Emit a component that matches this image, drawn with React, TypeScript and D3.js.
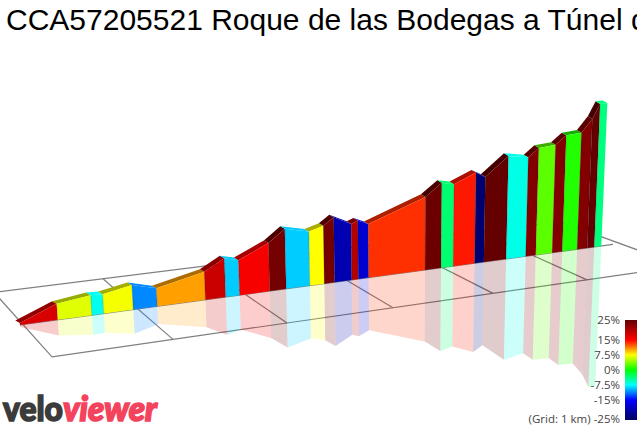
import * as d3 from "d3";
import { useEffect, useRef } from "react";

// Road profile
const distanceKm = [0, 0.32, 0.61, 0.71, 0.96, 1.18, 1.63, 1.82, 1.95, 2.24, 2.4, 2.63, 2.77, 2.87, 3.04, 3.11, 3.22, 3.82, 3.99, 4.12, 4.35, 4.45, 4.69, 4.9, 5.01, 5.22, 5.35, 5.54, 5.67, 5.76, 5.85];
const elevationM = [10, 80, 100, 97, 123, 90, 140, 194, 175, 240, 300, 270, 289, 325, 280, 292, 268, 365, 425, 410, 453, 425, 515, 495, 535, 539, 580, 583, 645, 715, 715];
const gradientPct = [17.5, 6.6, -7, 7.2, -11, 10.3, 18.4, -9, 15.5, 24, -9, 7.5, 24, -20, 20, -18, 13.6, 24.5, -3.3, 14.3, -24, 25, -6.8, 23, 2.7, 23, 1, 23, 25, -3.7];

// Ground grid
const gridKm = [0, 1, 2, 3, 4, 5, 6];
const backEdgeX = [-6, 103, 204, 302, 393, 480, 560];
const midEdgeX = [20, 138, 245, 348, 442, 535, 613];
const frontEdgeX = [52, 173, 287, 393, 493, 587, 682];

// Legend
const legendStops = [25, 15, 7.5, 0, -7.5, -15, -25];
const legendColors = ["#640000", "#ff0000", "#ffff00", "#00ff00", "#00ffff", "#0000ff", "#000060"];
const legendLabels = ["25%", "15%", "7.5%", "0%", "-7.5%", "-15%", "(Grid: 1 km) -25%"];

const title = "CCA57205521 Roque de las Bodegas a Túnel de";

export default function App() {
  const svgRef = useRef<SVGSVGElement>(null);

  useEffect(() => {
    if (!svgRef.current) return;
    const svg = d3.select(svgRef.current);
    svg.selectAll("*").remove();

    const xMid = d3.scaleLinear().domain(gridKm).range(midEdgeX);
    const xBack = d3.scaleLinear().domain(gridKm).range(backEdgeX);
    const xFront = d3.scaleLinear().domain(gridKm).range(frontEdgeX);
    // screen x -> screen y of the three long grid lines
    const yBack = d3.scaleLinear().domain([0, 560]).range([291.6, 221.6]);
    const yMid = d3.scaleLinear().domain([20, 613]).range([325, 244.4]);
    const yFront = d3.scaleLinear().domain([0, 682]).range([364.3, 266.2]);
    const height = d3.scaleLinear().domain([0, 715]).range([0, 143]);
    const color = d3.scaleLinear<string>().domain(legendStops).range(legendColors).interpolate(d3.interpolateRgb);
    const line = d3.line();

    // Ground grid goes first, the road hides most of it
    const grid = svg.append("g").attr("fill", "none").attr("stroke", "#808080").attr("stroke-width", 1.2);
    gridKm.forEach((k) => {
      const bx = xBack(k), fx = xFront(k);
      grid.append("path").attr("d", line([[bx, yBack(bx)], [fx, yFront(fx)]]));
    });
    grid.append("path").attr("d", line([[xBack(0), yBack(xBack(0))], [xBack(6), yBack(xBack(6))]]));
    grid.append("path").attr("d", line([[xMid(0), yMid(xMid(0))], [xMid(6), yMid(xMid(6))]]));
    grid.append("path").attr("d", line([[xFront(0), yFront(xFront(0))], [xFront(6), yFront(xFront(6))]]));

    // Verticals spread apart going up, away from the middle of the view
    const pts = distanceKm.map((d, i) => {
      const x = xMid(d);
      const y = yMid(x);
      const h = height(elevationM[i]);
      const lean = h * (x - 400) * 0.00021;
      return { x, y, h, topX: x + lean, topY: y - h, lowX: x - lean, lowY: y + h * 0.98 };
    });

    const ribbon = svg.append("g");
    gradientPct.forEach((g, i) => {
      const a = pts[i], b = pts[i + 1];
      const c = color(g);
      // reflection
      ribbon.append("path")
        .attr("d", line([[a.x, a.y], [b.x, b.y], [b.lowX, b.lowY], [a.lowX, a.lowY]]) + "Z")
        .attr("fill", c).attr("fill-opacity", 0.2);
    });
    gradientPct.forEach((g, i) => {
      const a = pts[i], b = pts[i + 1];
      const c = color(g);
      const ox = -4.5, oy = -2.6;
      // top of the road
      ribbon.append("path")
        .attr("d", line([[a.topX, a.topY], [b.topX, b.topY], [b.topX + ox, b.topY + oy], [a.topX + ox, a.topY + oy]]) + "Z")
        .attr("fill", g > 0 ? d3.color(c)!.darker(1.1).formatHex() : c);
      // front face
      ribbon.append("path")
        .attr("d", line([[a.x, a.y], [b.x, b.y], [b.topX, b.topY], [a.topX, a.topY]]) + "Z")
        .attr("fill", c);
      ribbon.append("path")
        .attr("d", line([[a.x, a.y], [a.topX, a.topY]]))
        .attr("stroke", "#000").attr("stroke-opacity", 0.25).attr("stroke-width", 0.7);
    });

    // Title, it runs off the right edge like the original
    svg.append("text")
      .attr("x", 6).attr("y", 30)
      .attr("font-family", "'Liberation Sans', Arial, sans-serif")
      .attr("font-size", 30).attr("fill", "#000")
      .text(title);

    // Legend
    const legendY = d3.scaleLinear().domain([25, -25]).range([320, 420]);
    const defs = svg.append("defs");
    const lg = defs.append("linearGradient").attr("id", "grad").attr("x1", 0).attr("x2", 0).attr("y1", 0).attr("y2", 1);
    legendStops.forEach((s, i) => {
      lg.append("stop").attr("offset", (25 - s) / 50).attr("stop-color", legendColors[i]);
    });
    svg.append("rect")
      .attr("x", 625).attr("y", legendY(25)).attr("width", 12).attr("height", legendY(-25) - legendY(25))
      .attr("fill", "url(#grad)");
    svg.append("g").selectAll("text").data(legendStops).join("text")
      .attr("x", 620)
      .attr("y", (d) => Math.min(legendY(d), 419) + 4)
      .attr("text-anchor", "end")
      .attr("font-family", "'Open Sans', sans-serif")
      .attr("font-size", 11.5)
      .attr("fill", "#444")
      .text((_, i) => legendLabels[i]);

    // Logo
    const logo = svg.append("g")
      .attr("font-family", "Lato, 'Open Sans', sans-serif")
      .attr("font-weight", 900).attr("font-size", 34).attr("stroke-width", 1.6);
    logo.append("text").attr("x", 3).attr("y", 421).attr("fill", "#3b3b3b").attr("stroke", "#3b3b3b")
      .attr("textLength", 60).attr("lengthAdjust", "spacingAndGlyphs").text("velo");
    logo.append("text").attr("x", 63).attr("y", 421).attr("fill", "#f4435c").attr("stroke", "#f4435c")
      .attr("font-style", "italic")
      .attr("textLength", 94).attr("lengthAdjust", "spacingAndGlyphs").text("viewer");
  }, []);

  return (
    <svg
      ref={svgRef}
      width={637}
      height={427}
      style={{ position: "absolute", left: 0, top: 0, background: "#fff" }}
    />
  );
}
